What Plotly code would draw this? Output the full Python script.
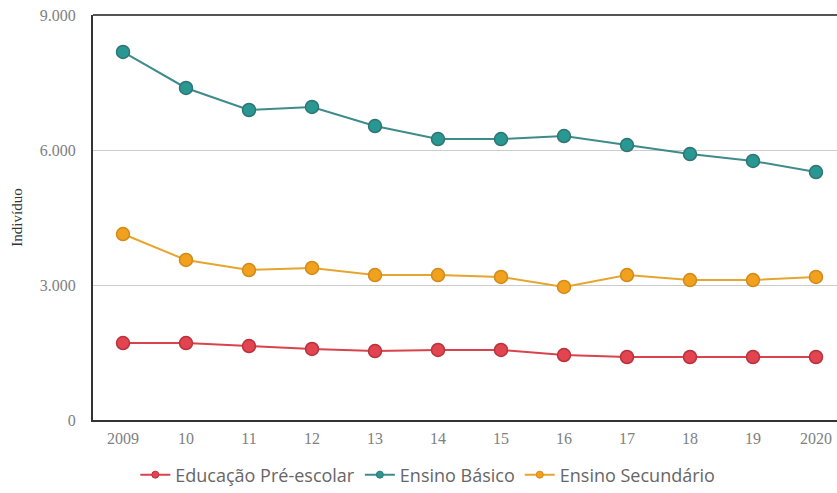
import plotly.graph_objects as go

years = list(range(2009, 2021))
tick_labels = ["2009", "10", "11", "12", "13", "14", "15", "16", "17", "18", "19", "2020"]
pre_escolar = [1711, 1711, 1644, 1578, 1533, 1556, 1556, 1444, 1400, 1400, 1400, 1400]
basico = [8180, 7378, 6889, 6956, 6533, 6244, 6244, 6311, 6111, 5911, 5756, 5511]
secundario = [4133, 3556, 3333, 3378, 3222, 3222, 3178, 2956, 3222, 3111, 3111, 3178]

series = [
    ("Educação Pré-escolar", pre_escolar, "#d9434b", "#e24550", "#b8323c"),
    ("Ensino Básico", basico, "#3d8c89", "#2a9892", "#2f7573"),
    ("Ensino Secundário", secundario, "#e6a52e", "#f2a11e", "#d28a1a"),
]

fig = go.Figure()
for name, vals, lc, fc, oc in series:
    fig.add_trace(go.Scatter(
        x=years, y=vals, name=name, mode="lines+markers", showlegend=False,
        line=dict(color=lc, width=2),
        marker=dict(size=13, color=fc, line=dict(color=oc, width=1.5)),
    ))
for name, vals, lc, fc, oc in series:
    fig.add_trace(go.Scatter(
        x=[None], y=[None], name=name, mode="lines+markers",
        line=dict(color=lc, width=2),
        marker=dict(size=7, color=fc, line=dict(color=oc, width=1)),
    ))

fig.update_layout(
    width=837, height=493,
    margin=dict(l=93, r=0, t=15, b=73, autoexpand=False),
    paper_bgcolor="white", plot_bgcolor="white",
    showlegend=True,
    legend=dict(orientation="h", x=0.45, xanchor="center", y=-0.09, yanchor="top",
                font=dict(family="Open Sans", size=18, color="#666666"),
                itemwidth=30, tracegroupgap=0),
    xaxis=dict(
        range=[2009 - 30 / 63, 2020 + 21 / 63],
        tickvals=years, ticktext=tick_labels, automargin=False,
        showgrid=False, zeroline=False,
        showline=True, linecolor="#333333", linewidth=2, mirror=False,
        ticks="", ticklabelstandoff=3,
        tickfont=dict(family="Liberation Serif", size=16, color="#808080"),
    ),
    yaxis=dict(
        range=[0, 9000], tickvals=[0, 3000, 6000, 9000],
        ticktext=["0", "3.000", "6.000", "9.000"], automargin=False,
        showgrid=True, gridcolor="#cccccc", gridwidth=1,
        zeroline=False, showline=True, linecolor="#333333", linewidth=2,
        ticks="", ticklabelstandoff=12,
        tickfont=dict(family="Liberation Serif", size=16, color="#808080"),
        title=dict(text="Indivíduo", font=dict(family="Liberation Serif", size=15, color="#333333"), standoff=14),
    ),
)
fig.add_shape(type="line", xref="paper", yref="paper", x0=0, x1=1, y0=1, y1=1,
              line=dict(color="#555555", width=2))

fig.write_html("out.html", config={"displayModeBar": False},
               post_script="document.body.style.margin='0';")
